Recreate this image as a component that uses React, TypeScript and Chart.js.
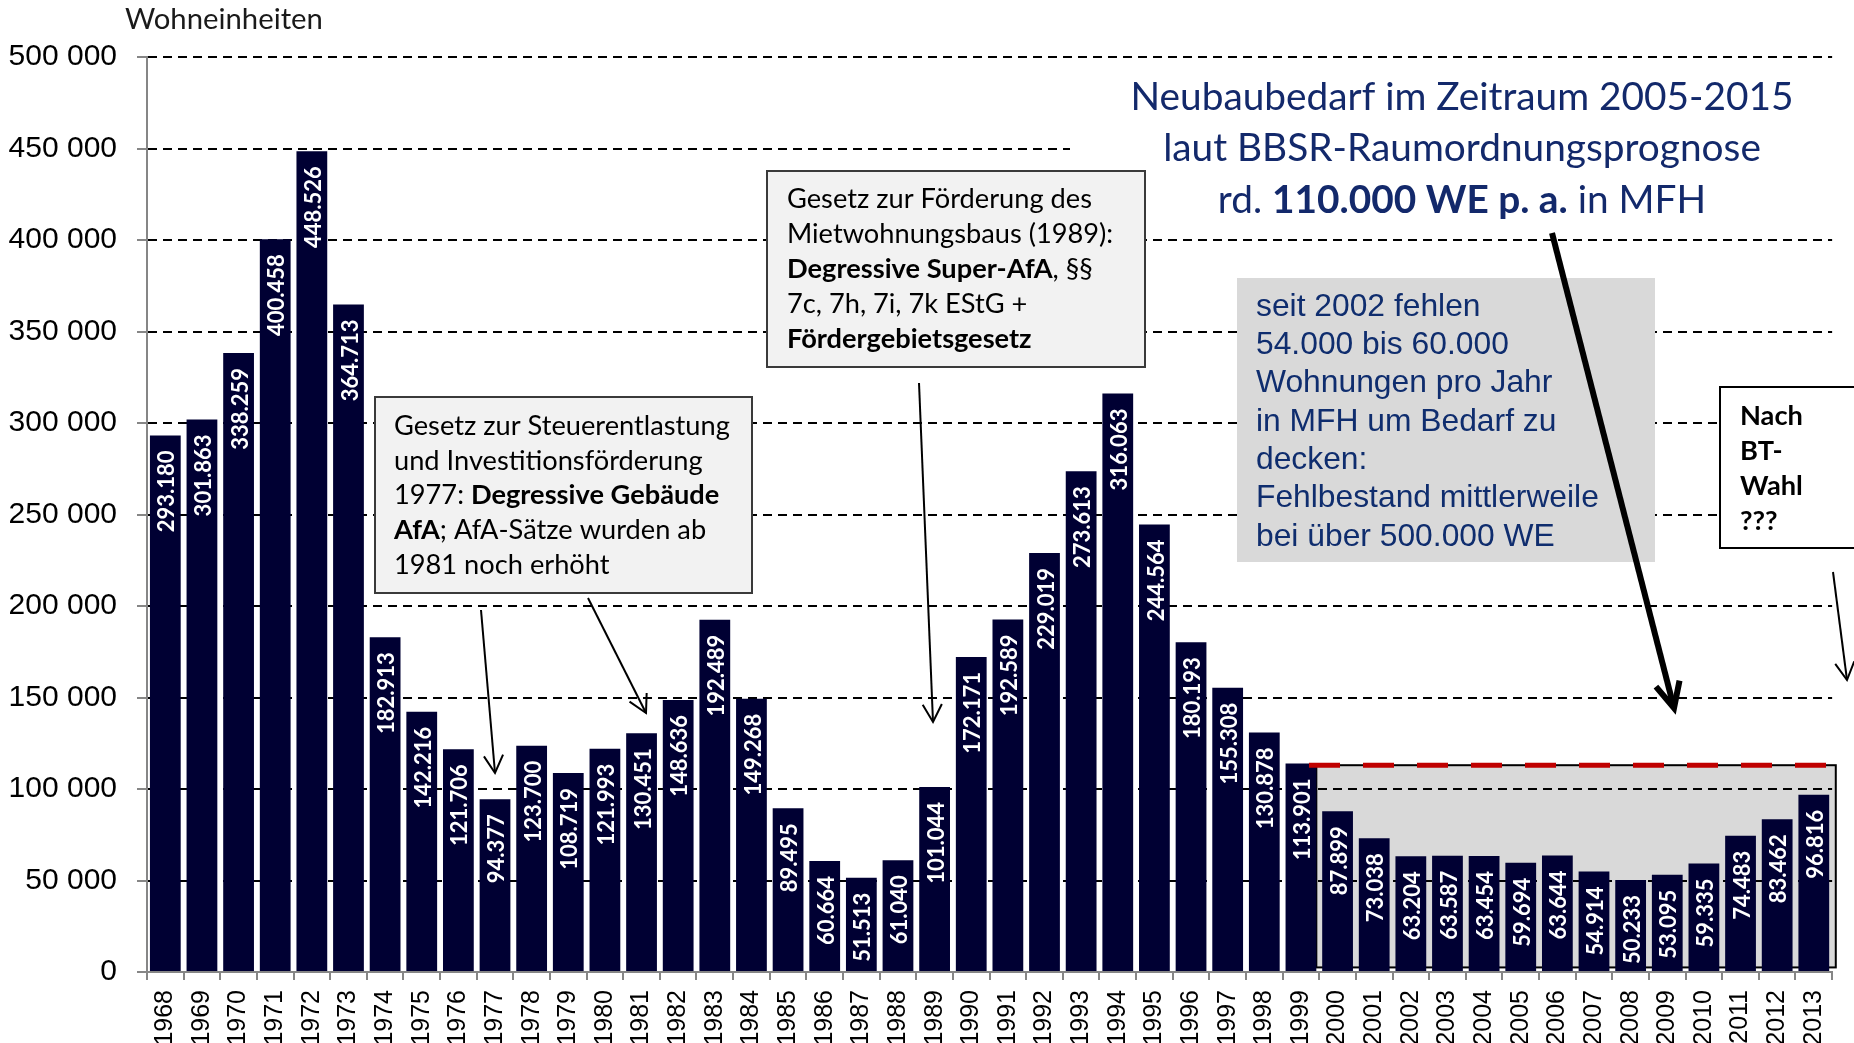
import React, { useEffect, useRef } from 'react';
import { Chart, registerables } from 'chart.js';

Chart.register(...registerables);

// ---------------- DATA ----------------
const years = [
  '1968', '1969', '1970', '1971', '1972', '1973', '1974', '1975', '1976', '1977',
  '1978', '1979', '1980', '1981', '1982', '1983', '1984', '1985', '1986', '1987',
  '1988', '1989', '1990', '1991', '1992', '1993', '1994', '1995', '1996', '1997',
  '1998', '1999', '2000', '2001', '2002', '2003', '2004', '2005', '2006', '2007',
  '2008', '2009', '2010', '2011', '2012', '2013',
];

const completions = [
  293180, 301863, 338259, 400458, 448526, 364713, 182913, 142216, 121706, 94377,
  123700, 108719, 121993, 130451, 148636, 192489, 149268, 89495, 60664, 51513,
  61040, 101044, 172171, 192589, 229019, 273613, 316063, 244564, 180193, 155308,
  130878, 113901, 87899, 73038, 63204, 63587, 63454, 59694, 63644, 54914,
  50233, 53095, 59335, 74483, 83462, 96816,
];

const yTickValues = [0, 50000, 100000, 150000, 200000, 250000, 300000, 350000, 400000, 450000, 500000];

// demand level (red dashed line, approx. 110.000 WE p. a.) and shaded shortfall region
const demandLevel = 113000;
const demandFromIndex = 31.22;
const demandToIndex = 45.5;
const shortfallFromIndex = 31.42;
const shortfallToIndex = 45.6;
const shortfallBottom = 2500;

// texts
const yAxisTitle = 'Wohneinheiten';
type Seg = { t: string; b?: boolean };
const box1Lines: Seg[][] = [
  [{ t: 'Gesetz zur Steuerentlastung' }],
  [{ t: 'und Investitionsförderung' }],
  [{ t: '1977: ' }, { t: 'Degressive Gebäude', b: true }],
  [{ t: 'AfA', b: true }, { t: '; AfA-Sätze wurden ab' }],
  [{ t: '1981 noch erhöht' }],
];
const box2Lines: Seg[][] = [
  [{ t: 'Gesetz zur Förderung des' }],
  [{ t: 'Mietwohnungsbaus (1989):' }],
  [{ t: 'Degressive Super-AfA', b: true }, { t: ', §§' }],
  [{ t: '7c, 7h, 7i, 7k EStG +' }],
  [{ t: 'Fördergebietsgesetz', b: true }],
];
const demandLines: Seg[][] = [
  [{ t: 'Neubaubedarf im Zeitraum 2005-2015' }],
  [{ t: 'laut BBSR-Raumordnungsprognose' }],
  [{ t: 'rd. ' }, { t: '110.000 WE p. a.', b: true }, { t: ' in MFH' }],
];
const gapLines = [
  'seit 2002 fehlen',
  '54.000 bis 60.000',
  'Wohnungen pro Jahr',
  'in MFH um Bedarf zu',
  'decken:',
  'Fehlbestand mittlerweile',
  'bei über 500.000 WE',
];
const electionLines = ['Nach', 'BT-', 'Wahl', '???'];

// ---------------- STYLE / LAYOUT ----------------
const W = 1854;
const H = 1043;
const BAR = '#000033';
const AXIS = '#868686';
const NAVY = '#13296b';
const CAL = 'Lato';
const ARIAL = '"Liberation Sans", Arial, sans-serif';

const fmtLabel = (v: number) => Math.floor(v / 1000) + '.' + String(v % 1000).padStart(3, '0');
const fmtTick = (v: number) => (v === 0 ? '0' : Math.floor(v / 1000) + ' ' + String(v % 1000).padStart(3, '0'));

function segFont(s: Seg, size: number, family: string) {
  return `${s.b ? 'bold ' : ''}${size}px ${family}`;
}
function segsWidth(ctx: CanvasRenderingContext2D, segs: Seg[], size: number, family: string) {
  let w = 0;
  for (const s of segs) {
    ctx.font = segFont(s, size, family);
    w += ctx.measureText(s.t).width;
  }
  return w;
}
function fitSize(ctx: CanvasRenderingContext2D, segs: Seg[], family: string, target: number) {
  return (100 * target) / segsWidth(ctx, segs, 100, family);
}
function drawSegs(
  ctx: CanvasRenderingContext2D, segs: Seg[], family: string, size: number,
  x: number, y: number, align: 'left' | 'center',
) {
  const total = segsWidth(ctx, segs, size, family);
  let cx = align === 'center' ? x - total / 2 : x;
  ctx.textAlign = 'left';
  ctx.textBaseline = 'middle';
  for (const s of segs) {
    ctx.font = segFont(s, size, family);
    ctx.fillText(s.t, cx, y);
    cx += ctx.measureText(s.t).width;
  }
}
function arrow(
  ctx: CanvasRenderingContext2D, x1: number, y1: number, x2: number, y2: number,
  width: number, arm: number, ang: number,
) {
  ctx.save();
  ctx.strokeStyle = '#000';
  ctx.lineWidth = width;
  ctx.lineCap = 'butt';
  ctx.lineJoin = 'miter';
  ctx.beginPath();
  ctx.moveTo(x1, y1);
  ctx.lineTo(x2, y2);
  ctx.stroke();
  const a = Math.atan2(y2 - y1, x2 - x1);
  ctx.beginPath();
  ctx.moveTo(x2 - arm * Math.cos(a - ang), y2 - arm * Math.sin(a - ang));
  ctx.lineTo(x2, y2);
  ctx.lineTo(x2 - arm * Math.cos(a + ang), y2 - arm * Math.sin(a + ang));
  ctx.stroke();
  ctx.restore();
}

const shortfallPlugin = {
  id: 'shortfall',
  beforeDraw(chart: any) {
    const { ctx, scales } = chart;
    const x1 = scales.x.getPixelForValue(shortfallFromIndex);
    const x2 = scales.x.getPixelForValue(shortfallToIndex);
    const y1 = scales.y.getPixelForValue(demandLevel);
    const y2 = scales.y.getPixelForValue(shortfallBottom);
    ctx.save();
    ctx.fillStyle = '#d9d9d9';
    ctx.fillRect(x1, y1, x2 - x1, y2 - y1);
    ctx.restore();
  },
  beforeDatasetsDraw(chart: any) {
    const { ctx, scales } = chart;
    const x1 = scales.x.getPixelForValue(shortfallFromIndex);
    const x2 = scales.x.getPixelForValue(shortfallToIndex);
    const y1 = scales.y.getPixelForValue(demandLevel);
    const y2 = scales.y.getPixelForValue(shortfallBottom);
    ctx.save();
    ctx.strokeStyle = '#000';
    ctx.lineWidth = 2;
    ctx.strokeRect(x1, y1, x2 - x1, y2 - y1);
    ctx.restore();
  },
};

const labelsPlugin = {
  id: 'barLabels',
  afterDatasetsDraw(chart: any) {
    const { ctx } = chart;
    const meta = chart.getDatasetMeta(0);
    ctx.save();
    ctx.fillStyle = '#ffffff';
    ctx.font = `bold 22px ${CAL}`;
    ctx.textAlign = 'right';
    ctx.textBaseline = 'middle';
    meta.data.forEach((bar: any, i: number) => {
      const { x, y } = bar.getProps(['x', 'y'], true);
      ctx.save();
      ctx.translate(x + 2, y + 15);
      ctx.rotate(-Math.PI / 2);
      ctx.fillText(fmtLabel(completions[i]), 0, 0);
      ctx.restore();
    });
    ctx.restore();
  },
};

const annotationPlugin = {
  id: 'annotations',
  afterDraw(chart: any) {
    const { ctx, scales } = chart;
    ctx.save();

    // red dashed demand line
    const rx1 = scales.x.getPixelForValue(demandFromIndex);
    const rx2 = scales.x.getPixelForValue(demandToIndex);
    const ry = scales.y.getPixelForValue(demandLevel);
    ctx.strokeStyle = '#c00000';
    ctx.lineWidth = 5;
    ctx.setLineDash([31, 23]);
    ctx.beginPath();
    ctx.moveTo(rx1, ry);
    ctx.lineTo(rx2, ry);
    ctx.stroke();
    ctx.setLineDash([]);

    // y axis title
    ctx.fillStyle = '#1a1a1a';
    const tSize = fitSize(ctx, [{ t: yAxisTitle }], CAL, 198);
    drawSegs(ctx, [{ t: yAxisTitle }], CAL, tSize, 125, 20, 'left');

    // demand statement (white background) - drawn first so callout boxes sit on top
    ctx.fillStyle = '#ffffff';
    ctx.fillRect(1070, 72, 784, 150);
    ctx.fillStyle = NAVY;
    const dSize = fitSize(ctx, demandLines[0], CAL, 663);
    demandLines.forEach((l, i) => drawSegs(ctx, l, CAL, dSize, 1462, 97 + i * 51.5, 'center'));

    const boxSize = fitSize(ctx, box1Lines[0], CAL, 336);

    // box 1
    ctx.fillStyle = '#f2f2f2';
    ctx.fillRect(375, 397, 377, 196);
    ctx.strokeStyle = '#3a3a3a';
    ctx.lineWidth = 2;
    ctx.strokeRect(375, 397, 377, 196);
    ctx.fillStyle = '#000';
    box1Lines.forEach((l, i) => drawSegs(ctx, l, CAL, boxSize, 394, 426 + i * 34.8, 'left'));

    // box 2
    ctx.fillStyle = '#f2f2f2';
    ctx.fillRect(767, 171, 378, 196);
    ctx.strokeStyle = '#3a3a3a';
    ctx.strokeRect(767, 171, 378, 196);
    ctx.fillStyle = '#000';
    box2Lines.forEach((l, i) => drawSegs(ctx, l, CAL, boxSize, 787, 199 + i * 35, 'left'));

    // grey shortfall box
    ctx.fillStyle = '#d9d9d9';
    ctx.fillRect(1237, 278, 418, 284);
    ctx.fillStyle = '#0f2d6e';
    const gSize = fitSize(ctx, [{ t: gapLines[5] }], ARIAL, 343);
    gapLines.forEach((t, i) => drawSegs(ctx, [{ t }], ARIAL, gSize, 1256, 307 + i * 38.3, 'left'));

    // election box
    ctx.fillStyle = '#ffffff';
    ctx.fillRect(1720, 387, 160, 161);
    ctx.strokeStyle = '#000';
    ctx.lineWidth = 2;
    ctx.strokeRect(1720, 387, 160, 161);
    ctx.fillStyle = '#000';
    electionLines.forEach((t, i) => drawSegs(ctx, [{ t, b: true }], CAL, boxSize, 1740, 416 + i * 35, 'left'));

    // arrows
    arrow(ctx, 481, 610, 495, 773, 2, 20, 0.5);
    arrow(ctx, 588, 598, 646, 713, 2, 20, 0.5);
    arrow(ctx, 919, 383, 933, 722, 2, 20, 0.5);
    arrow(ctx, 1833, 572, 1847, 680, 2, 20, 0.5);
    arrow(ctx, 1552, 233, 1674, 708, 6, 28, 0.45);

    ctx.restore();
  },
};

export default function App() {
  const ref = useRef<HTMLCanvasElement | null>(null);

  useEffect(() => {
    if (!ref.current) return;
    const chart = new Chart(ref.current, {
      type: 'bar',
      data: {
        labels: years,
        datasets: [
          {
            data: completions,
            backgroundColor: BAR,
            borderWidth: 0,
            barPercentage: 0.84,
            categoryPercentage: 1,
          },
        ],
      },
      options: {
        animation: false,
        responsive: false,
        devicePixelRatio: 1,
        layout: { padding: { top: 57, right: 18, left: 0, bottom: 0 } },
        plugins: {
          legend: { display: false },
          tooltip: { enabled: false },
          title: { display: false },
        },
        scales: {
          x: {
            grid: {
              display: true,
              drawOnChartArea: false,
              drawTicks: true,
              tickLength: 8,
              color: AXIS,
              lineWidth: 2,
              offset: true,
            },
            border: { display: true, color: AXIS, width: 2 },
            ticks: {
              color: '#000',
              font: { family: ARIAL, size: 25 },
              maxRotation: 90,
              minRotation: 90,
              autoSkip: false,
              padding: 10,
            },
            afterFit: (s: any) => {
              s.height = 71;
            },
          },
          y: {
            min: 0,
            max: 500000,
            afterBuildTicks: (s: any) => {
              s.ticks = yTickValues.map((v) => ({ value: v }));
            },
            grid: {
              color: (c: any) => (c.tick && c.tick.value === 0 ? 'rgba(0,0,0,0)' : '#000'),
              lineWidth: 2,
              drawTicks: true,
              tickLength: 10,
              tickColor: AXIS,
              tickWidth: 2,
            },
            border: { display: true, color: AXIS, width: 2, dash: [9, 6] },
            ticks: {
              color: '#000',
              font: { family: ARIAL, size: 30 },
              padding: 20,
              callback: (v: any) => fmtTick(Number(v)),
            },
            afterFit: (s: any) => {
              s.width = 147;
            },
          },
        },
      } as any,
      plugins: [shortfallPlugin, labelsPlugin, annotationPlugin],
    });
    return () => chart.destroy();
  }, []);

  return (
    <div style={{ position: 'fixed', left: 0, top: 0, width: W, height: H, background: '#fff' }}>
      <canvas ref={ref} width={W} height={H} style={{ display: 'block', width: W, height: H }} />
    </div>
  );
}
